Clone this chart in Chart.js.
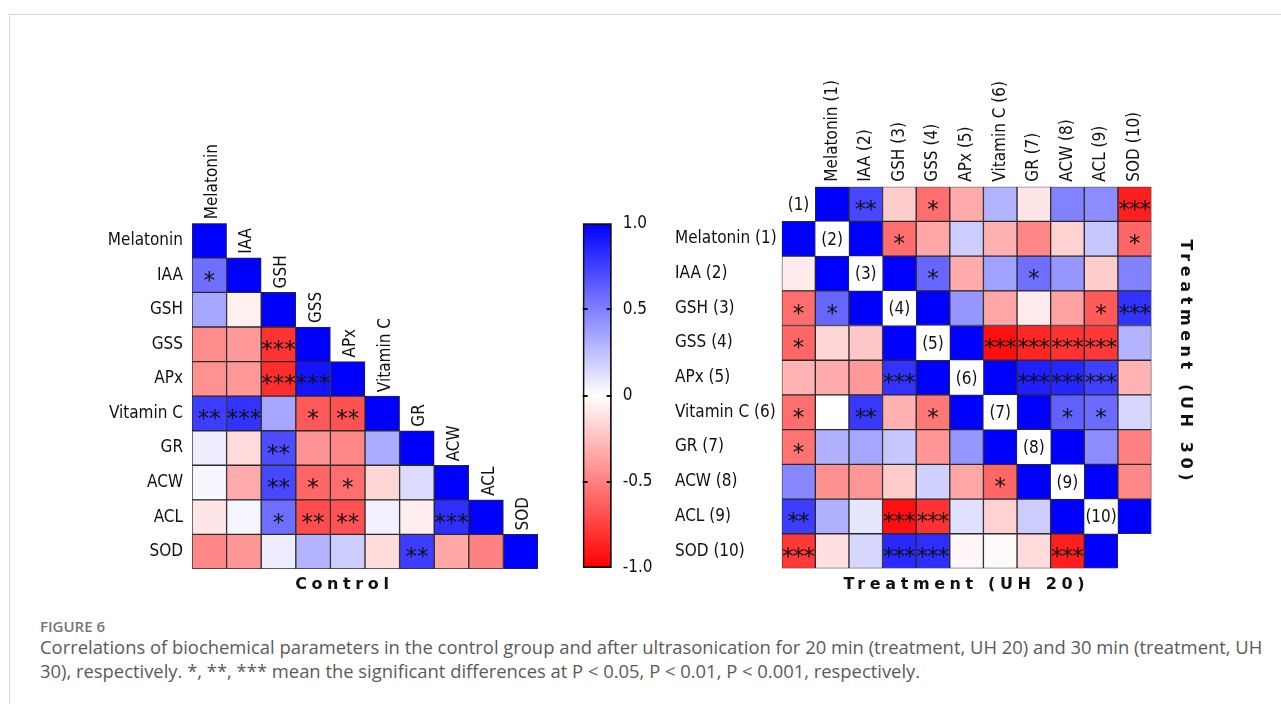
<!DOCTYPE html>
<html>
<head>
<meta charset="utf-8">
<script src="https://cdn.jsdelivr.net/npm/chart.js@4/dist/chart.umd.min.js"></script>
<style>
  html, body { margin: 0; padding: 0; background: #fff; }
  body { width: 1281px; height: 704px; position: relative; overflow: hidden; }
  .frame { position: absolute; left: 9px; top: 14px; right: 0; bottom: 0;
           border-top: 1.5px solid #d6d6d6; border-left: 1.5px solid #d6d6d6; }
  canvas { position: absolute; }
  #control { left: 100px; top: 130px; }
  #scale { left: 570px; top: 198px; }
  #treatment { left: 665px; top: 80px; }
  .fig { position: absolute; left: 40px; top: 619px; font: 600 15px/15px 'Open Sans', sans-serif; color: #767676; }
  .cap { position: absolute; left: 40px; top: 635px; font: 400 18.4px/24px 'Open Sans', sans-serif;
         color: #5a5a5a; white-space: nowrap; }
</style>
</head>
<body>
<div class="frame"></div>
<canvas id="control" width="450" height="470"></canvas>
<canvas id="scale" width="100" height="397"></canvas>
<canvas id="treatment" width="545" height="520"></canvas>
<div class="fig">FIGURE 6</div>
<div class="cap">Correlations of biochemical parameters in the control group and after ultrasonication for 20 min (treatment, UH 20) and 30 min (treatment, UH<br>30), respectively. *, **, *** mean the significant differences at P &lt; 0.05, P &lt; 0.01, P &lt; 0.001, respectively.</div>

<script>
// ---- Control group: lower triangle, row i holds correlations with variables 0..i
const controlLabels = ['Melatonin', 'IAA', 'GSH', 'GSS', 'APx', 'Vitamin C', 'GR', 'ACW', 'ACL', 'SOD'];
const controlR = [
  [1],
  [0.57, 1],
  [0.35, -0.06, 1],
  [-0.45, -0.40, -0.80, 1],
  [-0.43, -0.40, -0.82, 0.92, 1],
  [0.76, 0.80, 0.35, -0.65, -0.68, 1],
  [0.07, -0.14, 0.70, -0.42, -0.47, 0.33, 1],
  [0.03, -0.33, 0.72, -0.60, -0.57, -0.16, 0.14, 1],
  [-0.10, 0.04, 0.57, -0.70, -0.68, 0.05, -0.07, 0.82, 1],
  [-0.47, -0.41, 0.07, 0.30, 0.20, -0.14, 0.76, -0.35, -0.49, 1]
];
const controlSig = [
  [''],
  ['*', ''],
  ['', '', ''],
  ['', '', '***', ''],
  ['', '', '***', '***', ''],
  ['**', '***', '', '*', '**', ''],
  ['', '', '**', '', '', '', ''],
  ['', '', '**', '*', '*', '', '', ''],
  ['', '', '*', '**', '**', '', '', '***', ''],
  ['', '', '', '', '', '', '**', '', '', '']
];

// ---- Treatment: UH 20 (lower triangle) and UH 30 (upper triangle)
const treatLabels = ['Melatonin (1)', 'IAA (2)', 'GSH (3)', 'GSS (4)', 'APx (5)', 'Vitamin C (6)', 'GR (7)', 'ACW (8)', 'ACL (9)', 'SOD (10)'];
const diagTags = ['(1)', '(2)', '(3)', '(4)', '(5)', '(6)', '(7)', '(8)', '(9)', '(10)'];
const uh20R = [
  [1],
  [-0.08, 1],
  [-0.57, 0.60, 1],
  [-0.60, -0.16, -0.22, 1],
  [-0.30, -0.33, -0.40, 0.80, 1],
  [-0.57, 0.00, 0.78, -0.31, -0.53, 1],
  [-0.55, 0.31, 0.35, 0.22, -0.41, 0.41, 1],
  [0.47, -0.43, -0.41, -0.20, 0.18, -0.35, -0.60, 1],
  [0.76, 0.31, 0.10, -0.94, -0.80, 0.12, -0.18, 0.20, 1],
  [-0.78, -0.12, 0.16, 0.84, 0.82, -0.03, -0.02, -0.14, -0.88, 1]
];
const uh20Sig = [
  [''],
  ['', ''],
  ['*', '*', ''],
  ['*', '', '', ''],
  ['', '', '', '***', ''],
  ['*', '', '**', '', '*', ''],
  ['*', '', '', '', '', '', ''],
  ['', '', '', '', '', '', '*', ''],
  ['**', '', '', '***', '***', '', '', '', ''],
  ['***', '', '', '***', '***', '', '', '', '***', '']
];
// row r holds correlations of variable r with variables r..9
const uh30R = [
  [1, 0.72, -0.20, -0.57, -0.33, 0.30, -0.10, 0.49, 0.45, -0.88],
  [1, -0.57, -0.35, 0.20, -0.31, -0.47, -0.18, 0.22, -0.60],
  [1, 0.60, -0.33, 0.37, 0.57, 0.41, -0.20, 0.49],
  [1, 0.41, -0.35, -0.08, -0.37, -0.65, 0.80],
  [1, -0.94, -0.85, -0.80, -0.78, 0.30],
  [1, 0.88, 0.85, 0.75, -0.30],
  [1, 0.62, 0.58, 0.16],
  [1, 0.45, -0.50],
  [1, -0.47],
  [1]
];
const uh30Sig = [
  ['', '**', '', '*', '', '', '', '', '', '***'],
  ['', '*', '', '', '', '', '', '', '*'],
  ['', '*', '', '', '*', '', '', ''],
  ['', '', '', '', '', '*', '***'],
  ['', '***', '***', '***', '***', ''],
  ['', '***', '***', '***', ''],
  ['', '*', '*', ''],
  ['', '', ''],
  ['', ''],
  ['']
];

// ---- Colour scale
const colorbarTicks = [-1, -0.5, 0, 0.5, 1];
const colorbarTickLabels = ['-1.0', '-0.5', '0', '0.5', '1.0'];

const FONT = "'DejaVu Sans Condensed', 'Liberation Sans', sans-serif";
const STAR_FONT = "'DejaVu Sans', sans-serif";
const LABEL_SIZE = 17;

function corrColor(v) {
  if (v >= 0) { const c = Math.round(255 * (1 - v)); return `rgb(${c},${c},255)`; }
  const c = Math.round(255 * (1 + v));
  return `rgb(255,${c},${c})`;
}

// one bar dataset per grid column; each cell is a floating bar [col, col+1]
function gridDatasets(cells, nRows, nCols) {
  const sets = [];
  for (let col = 0; col < nCols; col++) {
    const data = [], bg = [];
    for (let row = 0; row < nRows; row++) {
      const cell = cells.find(c => c.row === row && c.col === col);
      data.push(cell ? [col, col + 1] : null);
      bg.push(cell ? corrColor(cell.v) : 'rgba(0,0,0,0)');
    }
    sets.push({ data, backgroundColor: bg });
  }
  return sets;
}

function centeredText(ctx, text, cx, cy) {
  const m = ctx.measureText(text);
  ctx.fillText(text, cx, cy + (m.actualBoundingBoxAscent - m.actualBoundingBoxDescent) / 2);
}

function drawStars(ctx, sig, cx, cy, gap) {
  ctx.font = `23px ${STAR_FONT}`;
  ctx.textAlign = 'center';
  ctx.textBaseline = 'alphabetic';
  const n = sig.length;
  for (let k = 0; k < n; k++) {
    centeredText(ctx, '*', cx + (k - (n - 1) / 2) * gap, cy + 1);
  }
}

function spacedTitle(ctx, text, x, y, angle) {
  ctx.save();
  ctx.translate(x, y);
  ctx.rotate(angle);
  ctx.font = `bold 16px 'DejaVu Sans', sans-serif`;
  ctx.letterSpacing = '4.6px';
  ctx.textAlign = 'center';
  ctx.textBaseline = 'middle';
  ctx.fillStyle = '#111';
  ctx.fillText(text, 2.3, 0);
  ctx.restore();
}

function heatOptions(pad, axisWidth, maxX, tickAlign) {
  return {
    indexAxis: 'y',
    responsive: false,
    animation: false,
    layout: { padding: pad },
    plugins: { legend: { display: false }, tooltip: { enabled: false } },
    datasets: { bar: { categoryPercentage: 1, barPercentage: 1, grouped: false,
                       borderWidth: 1, borderColor: '#2a2a2a', borderSkipped: false } },
    scales: {
      x: { type: 'linear', min: 0, max: maxX, display: false },
      y: {
        type: 'category',
        grid: { display: false, drawTicks: false },
        border: { display: false },
        ticks: { color: '#111', font: { family: FONT, size: LABEL_SIZE }, padding: 9,
                 autoSkip: false, crossAlign: tickAlign },
        afterFit(s) { s.width = axisWidth; }
      }
    }
  };
}

// ---- Control chart
const controlCells = [];
controlR.forEach((row, i) => row.forEach((v, j) =>
  controlCells.push({ row: i, col: j, v, sig: controlSig[i][j] })));

new Chart(document.getElementById('control'), {
  type: 'bar',
  data: { labels: controlLabels, datasets: gridDatasets(controlCells, 10, 10) },
  options: heatOptions({ top: 93.3, right: 12, bottom: 31, left: 0 }, 92, 10, 'near'),
  plugins: [{
    id: 'controlText',
    afterDatasetsDraw(chart) {
      const { ctx, scales: { x, y }, chartArea } = chart;
      const band = (y.bottom - y.top) / controlLabels.length;
      ctx.save();
      ctx.fillStyle = '#111';
      controlCells.forEach(c => {
        if (c.sig) drawStars(ctx, c.sig, x.getPixelForValue(c.col + 0.5), y.getPixelForValue(c.row), 11.5);
      });
      // column names sit on top of each diagonal cell
      ctx.font = `${LABEL_SIZE}px ${FONT}`;
      controlLabels.forEach((name, j) => {
        ctx.save();
        ctx.translate(x.getPixelForValue(j + 0.5) + 3, y.getPixelForValue(j) - band / 2 - 4);
        ctx.rotate(-Math.PI / 2);
        ctx.textAlign = 'left';
        ctx.textBaseline = 'middle';
        ctx.fillText(name, 0, 0);
        ctx.restore();
      });
      ctx.restore();
      spacedTitle(ctx, 'Control', chartArea.left + 150, chartArea.bottom + 16, 0);
    }
  }]
});

// ---- Colour scale chart
new Chart(document.getElementById('scale'), {
  type: 'bar',
  data: { labels: ['r'], datasets: [{
    data: [[-1, 1]],
    borderWidth: 2, borderColor: '#111', borderSkipped: false,
    backgroundColor(context) {
      const { chart } = context;
      const ys = chart.scales.y;
      if (!ys || !chart.chartArea) return '#fff';
      const p0 = ys.getPixelForValue(-1), p1 = ys.getPixelForValue(1);
      if (!isFinite(p0) || !isFinite(p1)) return '#fff';
      const g = chart.ctx.createLinearGradient(0, p0, 0, p1);
      g.addColorStop(0, corrColor(-1));
      g.addColorStop(0.5, corrColor(0));
      g.addColorStop(1, corrColor(1));
      return g;
    }
  }] },
  options: {
    responsive: false,
    animation: false,
    layout: { padding: { top: 25.3, right: 0, bottom: 27, left: 12.7 } },
    plugins: { legend: { display: false }, tooltip: { enabled: false } },
    datasets: { bar: { categoryPercentage: 1, barPercentage: 1 } },
    scales: {
      x: { display: false },
      y: {
        position: 'right', min: -1, max: 1,
        grid: { display: false, drawTicks: false },
        border: { display: false },
        afterBuildTicks(s) { s.ticks = colorbarTicks.map(value => ({ value })); },
        ticks: { color: '#111', font: { family: FONT, size: LABEL_SIZE }, padding: 11,
                 callback: (value, index) => colorbarTickLabels[index] },
        afterFit(s) { s.width = 58.3; }
      }
    }
  },
  plugins: [{
    id: 'scaleMarks',
    afterDatasetsDraw(chart) {
      const { ctx, chartArea: a, scales: { y } } = chart;
      ctx.save();
      ctx.strokeStyle = '#111';
      ctx.lineWidth = 2;
      colorbarTicks.slice(1, -1).forEach(v => {
        const py = Math.round(y.getPixelForValue(v));
        ctx.beginPath();
        ctx.moveTo(a.left, py); ctx.lineTo(a.left + 5, py);
        ctx.moveTo(a.right - 5, py); ctx.lineTo(a.right, py);
        ctx.stroke();
      });
      ctx.restore();
    }
  }]
});

// ---- Treatment chart (11 x 11 grid: UH 20 below, UH 30 above the tag diagonal)
const treatCells = [];
uh20R.forEach((row, i) => row.forEach((v, j) =>
  treatCells.push({ row: i + 1, col: j, v, sig: uh20Sig[i][j] })));
uh30R.forEach((row, r) => row.forEach((v, k) =>
  treatCells.push({ row: r, col: r + k + 1, v, sig: uh30Sig[r][k] })));

new Chart(document.getElementById('treatment'), {
  type: 'bar',
  data: { labels: [''].concat(treatLabels), datasets: gridDatasets(treatCells, 11, 11) },
  options: heatOptions({ top: 106.7, right: 58.5, bottom: 31.5, left: 10 }, 106.7, 11, 'far'),
  plugins: [{
    id: 'treatText',
    afterDatasetsDraw(chart) {
      const { ctx, scales: { x, y }, chartArea } = chart;
      ctx.save();
      ctx.fillStyle = '#111';
      treatCells.forEach(c => {
        if (c.sig) drawStars(ctx, c.sig, x.getPixelForValue(c.col + 0.5), y.getPixelForValue(c.row), 10.5);
      });
      ctx.font = `${LABEL_SIZE}px ${FONT}`;
      ctx.textAlign = 'center';
      diagTags.forEach((tag, k) => centeredText(ctx, tag, x.getPixelForValue(k + 0.5), y.getPixelForValue(k)));
      treatLabels.forEach((name, c) => {
        ctx.save();
        ctx.translate(x.getPixelForValue(c + 1.5), chartArea.top - 5);
        ctx.rotate(-Math.PI / 2);
        ctx.textAlign = 'left';
        ctx.textBaseline = 'middle';
        ctx.fillText(name, 0, 0);
        ctx.restore();
      });
      ctx.restore();
      spacedTitle(ctx, 'Treatment (UH 20)', chartArea.left + 182.3, chartArea.bottom + 16.5, 0);
      spacedTitle(ctx, 'Treatment (UH 30)', chartArea.right + 33.5, chartArea.top + 173.3, Math.PI / 2);
    }
  }]
});
</script>
</body>
</html>
